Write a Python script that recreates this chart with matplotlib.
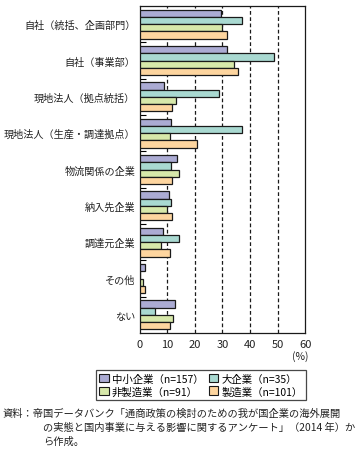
import matplotlib
matplotlib.use("Agg")
import matplotlib.pyplot as plt
from matplotlib.patches import Patch
import numpy as np

plt.rcParams['font.family'] = ['Noto Sans CJK JP', 'DejaVu Sans']

categories = ["自社（統括、企画部門）", "自社（事業部）", "現地法人（拠点統括）",
              "現地法人（生産・調達拠点）", "物流関係の企業", "納入先企業",
              "調達元企業", "その他", "ない"]
series_names = ["中小企業（n=157）", "大企業（n=35）", "非製造業（n=91）", "製造業（n=101）"]
sme = [29.3, 31.8, 8.9, 11.5, 13.4, 10.8, 8.3, 1.9, 12.7]
large = [37.1, 48.6, 28.6, 37.1, 11.4, 11.4, 14.3, 0.0, 5.7]
nonmfg = [29.7, 34.1, 13.2, 11.0, 14.3, 9.9, 7.7, 1.1, 12.1]
mfg = [31.7, 35.6, 11.9, 20.8, 11.9, 11.9, 10.9, 2.0, 10.9]
colors = ["#ABABD3", "#A9D9D1", "#D7E8AA", "#FDD59F"]
xticks = [0, 10, 20, 30, 40, 50, 60]

fig = plt.figure(figsize=(3.59, 4.52), dpi=100)
ax = fig.add_axes([139.6/359, 1-334/452, (305.3-139.6)/359, (334-7)/452])

n = len(categories)
ypos = np.arange(n)
h = 0.2
data = [sme, large, nonmfg, mfg]
for i, (vals, c) in enumerate(zip(data, colors)):
    ax.barh(ypos - 0.3 + i*h, vals, height=h, color=c, edgecolor="#1a1a1a",
            linewidth=0.9, zorder=3)

ax.set_xlim(0, 60)
ax.set_ylim(n - 0.5, -0.5)
ax.set_xticks(xticks)
ax.set_xticklabels([str(t) for t in xticks], fontsize=8, color="#222222")
ax.set_yticks(ypos)
ax.set_yticklabels(categories, fontsize=7.3, color="#222222")
ax.tick_params(axis='y', which='major', length=0, pad=3)
ax.set_yticks(np.arange(n - 1) + 0.5, minor=True)
ax.tick_params(axis='y', which='minor', direction='in', length=4, width=0.8)
ax.tick_params(axis='x', which='major', length=0, pad=4)
for t in xticks[1:-1]:
    ax.axvline(t, color="#1a1a1a", linestyle=(0, (3, 2)), linewidth=0.9, zorder=1)
for s in ax.spines.values():
    s.set_linewidth(0.9)
    s.set_color("#1a1a1a")

fig.text(300/359, 1-357/452, "(%)", fontsize=7.5, ha='center', va='center', color="#222222")

handles = [Patch(facecolor=c, edgecolor="#1a1a1a", linewidth=0.8) for c in colors]
order = [0, 2, 1, 3]
leg = fig.legend([handles[i] for i in order], [series_names[i] for i in order],
                 loc='center', ncol=2,
                 bbox_to_anchor=(201/359, 1-386/452), fontsize=7.5,
                 frameon=True, fancybox=False, edgecolor="#1a1a1a",
                 handlelength=0.9, handleheight=0.9, handletextpad=0.3,
                 columnspacing=0.5, borderpad=0.3, labelspacing=0.25)
leg.get_frame().set_linewidth(0.9)

fig.text(3/359, 1-414/452, "資料：帝国データバンク「通商政策の検討のための我が国企業の海外展開",
         fontsize=7.4, ha='left', va='center', color="#222222")
fig.text(43/359, 1-428/452, "の実態と国内事業に与える影響に関するアンケート」（2014 年）か",
         fontsize=7.4, ha='left', va='center', color="#222222")
fig.text(43/359, 1-442/452, "ら作成。",
         fontsize=7.4, ha='left', va='center', color="#222222")

fig.savefig("out.png", dpi=100)
